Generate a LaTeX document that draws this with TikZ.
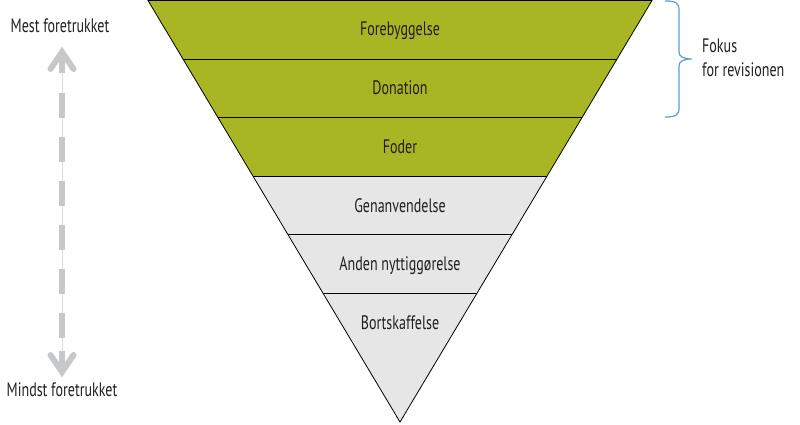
\documentclass[tikz,border=0pt]{standalone}
\usepackage{fontspec}
\setmainfont{PT Sans}[FakeStretch=0.72]
\usetikzlibrary{calc}
\definecolor{lvl}{RGB}{168,182,36}
\definecolor{grayfill}{RGB}{230,230,230}
\definecolor{arrowgray}{RGB}{199,200,202}
\definecolor{bracecol}{RGB}{91,155,213}
\definecolor{txt}{RGB}{35,31,32}
\begin{document}
\begin{tikzpicture}[x=1pt,y=-1pt,
  lbl/.style={font=\fontsize{19.5}{22}\selectfont, text=txt, inner sep=0pt, anchor=base},
  edge/.style={draw=black, line width=0.8pt},
  arr/.style={draw=arrowgray, line width=6pt},
  bracestyle/.style={draw=bracecol, line width=1.2pt}]
\useasboundingbox (0,0) rectangle (800,425);
\coordinate (TL) at (148,0.5);
\coordinate (TR) at (652,0.5);
\coordinate (AP) at (400,422);
\foreach \i in {1,...,5} {
  \coordinate (L\i) at ($(TL)!\i*0.13879!(AP)$);
  \coordinate (R\i) at ($(TR)!\i*0.13879!(AP)$);
}
\fill[lvl] (TL) -- (TR) -- (R3) -- (L3) -- cycle;
\fill[grayfill] (L3) -- (R3) -- (AP) -- cycle;
\foreach \i in {1,...,5} { \draw[edge] (L\i) -- (R\i); }
\draw[edge, line join=miter] (TL) -- (TR) -- (AP) -- cycle;
% labels
\node[lbl] (t1) at (400,36) {Forebyggelse};
\node[lbl] (t2) at (400,95) {Donation};
\node[lbl] (t3) at (400,153.5) {Foder};
\node[lbl] (t4) at (400,212) {Genanvendelse};
\node[lbl] (t5) at (400,270.5) {Anden nyttiggørelse};
\node[lbl] (t6) at (400,329) {Bortskaffelse};
\node[lbl] (most) at (60,33) {Mest foretrukket};
\node[lbl] (least) at (62,396.5) {Mindst foretrukket};
\node[lbl, anchor=base west] (fok1) at (702,53) {Fokus};
\node[lbl, anchor=base west] (fok2) at (702,77) {for revisionen};
% arrow
\coordinate (atop) at (62,52);
\coordinate (abot) at (62,372);
\draw[draw=arrowgray!70, line width=0.4pt] (atop) -- (abot);
\draw[arr, dash pattern=on 25pt off 19pt] (62,93) -- (62,340);
\draw[arr, line join=miter, line cap=round] (50.5,69) -- (atop) -- (73.5,69);
\draw[arr] (atop) -- (62,73);
\draw[arr, line join=miter, line cap=round] (50.5,355) -- (abot) -- (73.5,355);
\draw[arr] (abot) -- (62,351);
% brace
\coordinate (btop) at (665,1);
\coordinate (bbot) at (665,117);
\coordinate (btip) at (692,59);
\draw[bracestyle] (btop) .. controls (676,1) and (679,3) .. (679,10) -- (679,52)
  .. controls (679,57) and (684,59) .. (btip)
  .. controls (684,59) and (679,61) .. (679,66) -- (679,108)
  .. controls (679,115) and (676,117) .. (bbot);
\end{tikzpicture}
\end{document}
